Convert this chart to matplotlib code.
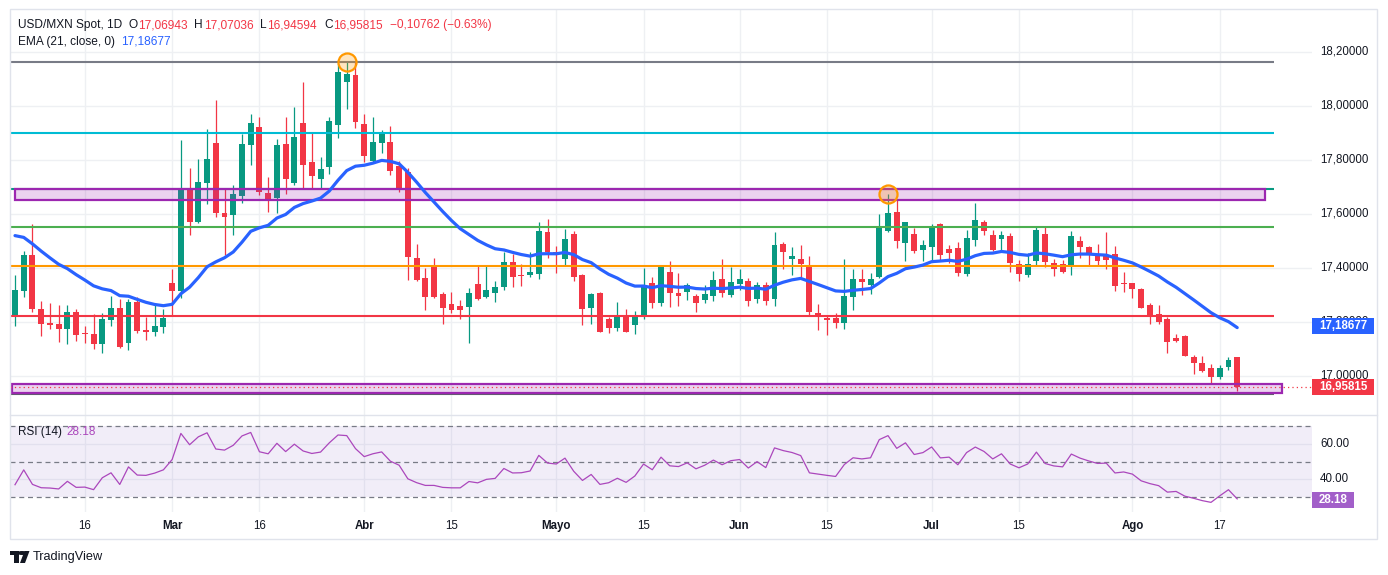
import numpy as np
import pandas as pd
import matplotlib
matplotlib.use("Agg")
import matplotlib.pyplot as plt
import matplotlib.transforms as mtransforms
from matplotlib.patches import Rectangle, Polygon, Circle
from matplotlib.lines import Line2D

plt.rcParams['font.family'] = ['Liberation Sans', 'DejaVu Sans']

# --- data (USD/MXN daily) ---
dates = pd.bdate_range("2026-02-04", "2026-08-19")

opens = [17.225, 17.316, 17.448, 17.248, 17.196, 17.193, 17.175, 17.237, 17.158, 17.155,
         17.120, 17.209, 17.252, 17.122, 17.274, 17.169, 17.164, 17.183, 17.344, 17.316,
         17.697, 17.571, 17.716, 17.863, 17.604, 17.597, 17.668, 17.856, 17.922, 17.679,
         17.660, 17.859, 17.716, 17.937, 17.793, 17.731, 17.775, 17.928, 18.090, 18.115,
         17.933, 17.798, 17.864, 17.866, 17.778, 17.754, 17.437, 17.363, 17.411, 17.304,
         17.267, 17.259, 17.257, 17.341, 17.294, 17.308, 17.331, 17.422, 17.374, 17.374,
         17.379, 17.533, 17.459, 17.434, 17.526, 17.374, 17.253, 17.307, 17.211, 17.179,
         17.223, 17.190, 17.220, 17.343, 17.271, 17.385, 17.307, 17.310, 17.297, 17.281,
         17.297, 17.359, 17.301, 17.342, 17.352, 17.286, 17.336, 17.284, 17.488, 17.435,
         17.433, 17.407, 17.233, 17.213, 17.216, 17.197, 17.294, 17.359, 17.337, 17.368,
         17.538, 17.607, 17.494, 17.525, 17.467, 17.478, 17.563, 17.470, 17.474, 17.379,
         17.504, 17.570, 17.522, 17.507, 17.519, 17.415, 17.375, 17.427, 17.526, 17.419,
         17.415, 17.405, 17.500, 17.478, 17.452, 17.447, 17.452, 17.344, 17.344, 17.322,
         17.262, 17.229, 17.210, 17.140, 17.148, 17.069, 17.047, 17.028, 16.997, 17.034,
         17.06943]
highs = [17.374, 17.463, 17.563, 17.278, 17.270, 17.263, 17.263, 17.248, 17.185, 17.230,
         17.233, 17.296, 17.285, 17.286, 17.293, 17.220, 17.270, 17.248, 17.396, 17.874,
         17.771, 17.805, 17.915, 18.022, 17.696, 17.707, 17.896, 17.970, 17.960, 17.738,
         17.878, 17.959, 17.998, 18.089, 17.905, 17.811, 17.960, 18.158, 18.163, 18.164,
         17.970, 17.960, 17.911, 17.926, 17.797, 17.769, 17.489, 17.399, 17.437, 17.310,
         17.310, 17.281, 17.325, 17.409, 17.409, 17.353, 17.460, 17.452, 17.415, 17.460,
         17.569, 17.581, 17.481, 17.546, 17.537, 17.378, 17.309, 17.312, 17.220, 17.274,
         17.247, 17.241, 17.400, 17.367, 17.410, 17.427, 17.381, 17.346, 17.303, 17.336,
         17.390, 17.433, 17.403, 17.395, 17.362, 17.348, 17.349, 17.534, 17.497, 17.479,
         17.485, 17.444, 17.266, 17.223, 17.232, 17.433, 17.395, 17.395, 17.380, 17.600,
         17.674, 17.655, 17.569, 17.547, 17.504, 17.563, 17.567, 17.485, 17.495, 17.541,
         17.641, 17.578, 17.541, 17.537, 17.531, 17.430, 17.454, 17.553, 17.551, 17.433,
         17.430, 17.537, 17.519, 17.481, 17.489, 17.535, 17.481, 17.385, 17.344, 17.325,
         17.269, 17.263, 17.217, 17.156, 17.152, 17.078, 17.074, 17.044, 17.041, 17.069,
         17.07036]
lows = [17.185, 17.294, 17.238, 17.149, 17.175, 17.127, 17.120, 17.131, 17.122, 17.100,
        17.084, 17.186, 17.103, 17.096, 17.158, 17.133, 17.149, 17.160, 17.222, 17.289,
        17.522, 17.568, 17.637, 17.590, 17.448, 17.522, 17.641, 17.781, 17.670, 17.608,
        17.604, 17.674, 17.707, 17.692, 17.696, 17.696, 17.748, 17.883, 17.990, 17.919,
        17.794, 17.788, 17.827, 17.744, 17.683, 17.356, 17.353, 17.244, 17.288, 17.193,
        17.234, 17.211, 17.123, 17.281, 17.290, 17.275, 17.319, 17.331, 17.334, 17.366,
        17.358, 17.436, 17.380, 17.409, 17.353, 17.189, 17.193, 17.162, 17.158, 17.168,
        17.162, 17.157, 17.210, 17.253, 17.260, 17.257, 17.260, 17.281, 17.238, 17.271,
        17.279, 17.293, 17.294, 17.319, 17.260, 17.269, 17.263, 17.259, 17.395, 17.374,
        17.368, 17.226, 17.170, 17.152, 17.179, 17.174, 17.244, 17.300, 17.304, 17.364,
        17.534, 17.475, 17.427, 17.457, 17.427, 17.430, 17.430, 17.417, 17.372, 17.372,
        17.483, 17.522, 17.463, 17.463, 17.387, 17.353, 17.368, 17.411, 17.405, 17.372,
        17.383, 17.375, 17.436, 17.407, 17.412, 17.396, 17.315, 17.310, 17.288, 17.251,
        17.193, 17.193, 17.086, 17.127, 17.075, 17.009, 17.014, 16.970, 16.990, 17.022,
        16.94594]
closes = [17.319, 17.448, 17.249, 17.194, 17.189, 17.175, 17.237, 17.153, 17.155, 17.120,
          17.211, 17.252, 17.109, 17.274, 17.168, 17.164, 17.185, 17.215, 17.316, 17.697,
          17.571, 17.720, 17.805, 17.605, 17.590, 17.674, 17.859, 17.937, 17.680, 17.649,
          17.855, 17.731, 17.885, 17.781, 17.742, 17.767, 17.946, 18.126, 18.118, 17.940,
          17.815, 17.867, 17.900, 17.760, 17.695, 17.440, 17.356, 17.294, 17.294, 17.253,
          17.244, 17.244, 17.307, 17.286, 17.319, 17.328, 17.422, 17.368, 17.370, 17.385,
          17.537, 17.459, 17.449, 17.507, 17.368, 17.249, 17.305, 17.164, 17.179, 17.219,
          17.164, 17.219, 17.335, 17.269, 17.407, 17.306, 17.297, 17.336, 17.269, 17.304,
          17.356, 17.309, 17.348, 17.359, 17.279, 17.336, 17.279, 17.485, 17.460, 17.443,
          17.416, 17.238, 17.223, 17.209, 17.197, 17.296, 17.359, 17.349, 17.359, 17.551,
          17.604, 17.501, 17.569, 17.464, 17.485, 17.550, 17.449, 17.457, 17.383, 17.511,
          17.578, 17.538, 17.467, 17.522, 17.420, 17.379, 17.415, 17.541, 17.423, 17.396,
          17.386, 17.519, 17.479, 17.451, 17.427, 17.430, 17.334, 17.342, 17.321, 17.253,
          17.223, 17.201, 17.127, 17.131, 17.075, 17.049, 17.019, 16.997, 17.028, 17.058,
          16.95815]

# indicator state carried in from before the first visible bar
ema_seed = 17.54
rsi_seed_gain, rsi_seed_loss = 0.024, 0.041

# drawn levels and zones
level_prices = [18.164, 17.901, 17.693, 17.551, 17.407, 17.224, 16.932]
level_colors = ['#787b86', '#00bcd4', '#089981', '#4caf50', '#ff9800', '#f23645', '#5d606b']
zones = [(17.652, 17.693), (16.937, 16.970)]
marked_highs = [38, 100]

tick_dates = ["2026-02-16", "2026-03-01", "2026-03-16", "2026-04-01", "2026-04-15",
              "2026-05-01", "2026-05-15", "2026-06-01", "2026-06-15", "2026-07-01",
              "2026-07-15", "2026-08-01", "2026-08-17"]
tick_texts = ["16", "Mar", "16", "Abr", "15", "Mayo", "15", "Jun", "15", "Jul", "15", "Ago", "17"]
price_ticks = [17.0, 17.2, 17.4, 17.6, 17.8, 18.0, 18.2]

# --- indicators ---
c = pd.Series(closes)
ema = [ema_seed]
for v in closes:
    ema.append(ema[-1] + (v - ema[-1]) * 2 / 22)
ema = np.array(ema[1:])

ag, al = rsi_seed_gain, rsi_seed_loss
rsi = [100 - 100 / (1 + ag / al)]
for d in c.diff().values[1:]:
    ag = (ag * 13 + max(d, 0)) / 14
    al = (al * 13 + max(-d, 0)) / 14
    rsi.append(100 - 100 / (1 + ag / al))
rsi = np.array(rsi)

# --- layout (pixels) ---
W, H = 1388, 575
def fx(px):
    return px / W
def fy(py):
    return 1 - py / H

fig = plt.figure(figsize=(W / 100, H / 100), dpi=100)
ax = fig.add_axes([fx(10), fy(415), fx(1302), (415 - 10) / H])
axr = fig.add_axes([fx(10), fy(512), fx(1302), (512 - 415) / H])

step = 8.73
x_lo, x_hi = (10 - 15) / step, (1312 - 15) / step
ax.set_xlim(x_lo, x_hi)
axr.set_xlim(x_lo, x_hi)
ax.set_ylim(18.2 - (415 - 52) / 270, 18.2 + (52 - 10) / 270)
axr.set_ylim(30 - 15 / 1.775, 70 + 11 / 1.775)
for a in (ax, axr):
    a.set_xticks([])
    a.set_yticks([])
    for s in a.spines.values():
        s.set_visible(False)

grid_c = '#eef0f3'
tick_idx = [int(dates.searchsorted(pd.Timestamp(d))) for d in tick_dates]
for t in tick_idx:
    ax.axvline(t, color=grid_c, lw=1, zorder=0)
    axr.axvline(t, color=grid_c, lw=1, zorder=0)
for p in price_ticks:
    ax.axhline(p, color=grid_c, lw=1, zorder=0)
for r in (40, 60):
    axr.axhline(r, color=grid_c, lw=1, zorder=0)

# candles
o, h, l, cl = map(np.array, (opens, highs, lows, closes))
x = np.arange(len(o))
up = cl >= o
col = np.where(up, '#089981', '#f23645')
ax.vlines(x, l, h, colors=col, lw=0.9, zorder=2)
ax.bar(x, np.maximum(np.abs(cl - o), 0.004), bottom=np.minimum(o, cl), width=0.68,
       color=col, zorder=2.1)

# levels and zones
line_end = (1274 - 15) / step
ax.hlines(level_prices, x_lo, line_end, colors=level_colors, lw=1.5, zorder=3)
zone_x = [(0, (1265 - 15) / step), ((12 - 15) / step, (1282 - 15) / step)]
for (z0, z1), (a0, a1) in zip(zones, zone_x):
    ax.add_patch(Rectangle((a0, z0), a1 - a0, z1 - z0, fc=(0.612, 0.153, 0.69, 0.2),
                           ec='#9c27b0', lw=1.6, zorder=3.2))

ax.plot(x, ema, color='#2962ff', lw=2.3, zorder=4, solid_capstyle='round')
ax.plot(x[marked_highs], h[marked_highs], 'o', ms=13, mfc=(1, 0.6, 0, 0.25),
        mec='#ff9800', mew=1.6, zorder=5)
ax.axhline(cl[-1], color='#f23645', lw=0.9, ls=(0, (1, 2.5)), zorder=3.5)

# RSI pane
axr.axhspan(30, 70, color=(0.494, 0.341, 0.761, 0.1), lw=0, zorder=0.5)
for r in (30, 50, 70):
    axr.axhline(r, color='#787b86', lw=0.9, ls=(0, (4, 3)), zorder=1)
axr.plot(x, rsi, color='#ab47bc', lw=0.9, zorder=3)

# frame
fig.patches.append(Rectangle((fx(10), fy(539)), fx(1367), (539 - 9) / H, transform=fig.transFigure,
                             fill=False, ec='#e0e3eb', lw=1))
fig.lines.append(Line2D([fx(10), fx(1377)], [fy(415), fy(415)], transform=fig.transFigure,
                        color='#e0e3eb', lw=1))

# price axis labels
tp = mtransforms.blended_transform_factory(fig.transFigure, ax.transData)
for p in price_ticks:
    fig.text(fx(1320), p, f"{p:.5f}".replace('.', ','), transform=tp, fontsize=8.3,
             color='#131722', va='center', ha='left', zorder=3)
def value_box(trans, val, half, text, color):
    fig.patches.append(Rectangle((fx(1312), val - half), fx(62), 2 * half, transform=trans,
                                 fc=color, ec='none', zorder=5))
    fig.text(fx(1343), val, text, transform=trans, fontsize=8.3, color='white',
             va='center', ha='center', fontweight='bold', zorder=6)
value_box(tp, 17.18677, 8 / 270, "17,18677", '#2962ff')
value_box(tp, cl[-1], 8 / 270, "16,95815", '#f23645')

tr = mtransforms.blended_transform_factory(fig.transFigure, axr.transData)
for r in (40, 60):
    fig.text(fx(1320), r, f"{r:.2f}", transform=tr, fontsize=8.3, color='#131722',
             va='center', ha='left')
fig.patches.append(Rectangle((fx(1312), 28.3 - 4.5), fx(42), 9, transform=tr,
                             fc='#a25fc9', ec='none', zorder=5))
fig.text(fx(1333), 28.3, "28.18", transform=tr, fontsize=8.3, color='white',
         va='center', ha='center', fontweight='bold', zorder=6)

# date labels
td = mtransforms.blended_transform_factory(axr.transData, fig.transFigure)
for t, s in zip(tick_idx, tick_texts):
    fig.text(t, fy(526), s, transform=td, fontsize=8.3, color='#131722', ha='center',
             va='center', fontweight='bold' if not s.isdigit() else 'normal')

# header legends, each piece placed right after the previous one
dark, red, blue = '#131722', '#f23645', '#2962ff'
renderer = fig.canvas.get_renderer()
def chain(py, pieces, size):
    px = 18
    for s, cc, gap in pieces:
        t = fig.text(fx(px), fy(py), s, fontsize=size, color=cc, va='center', ha='left')
        px = t.get_window_extent(renderer).x1 + gap

chain(25, [("USD/MXN Spot, 1D", dark, 6), ("O", dark, 0.5), ("17,06943", red, 7),
           ("H", dark, 0.5), ("17,07036", red, 7), ("L", dark, 0.5), ("16,94594", red, 7),
           ("C", dark, 0.5), ("16,95815", red, 7), ("\u22120,10762 (\u22120.63%)", red, 0)], 8.6)
chain(42, [("EMA (21, close, 0)", dark, 6), ("17,18677", blue, 0)], 8.6)
fig.text(fx(18), fy(432), "RSI (14)", fontsize=8.5, color=dark, va='center')
fig.text(fx(66), fy(432), "28.18", fontsize=8.5, color='#ab47bc', va='center')

# TradingView mark
ft = fig.transFigure
fig.patches.append(Rectangle((fx(10), fy(555)), fx(9), 4 / H, transform=ft, fc=dark, ec='none'))
fig.patches.append(Rectangle((fx(14), fy(563)), fx(5), 12 / H, transform=ft, fc=dark, ec='none'))
fig.patches.append(Circle((fx(22), fy(553)), 2 / H, transform=ft, fc=dark, ec='none'))
fig.patches.append(Polygon([(fx(24.5), fy(551)), (fx(29.5), fy(551)), (fx(25), fy(563)),
                            (fx(20), fy(563))], transform=ft, fc=dark, ec='none'))
fig.text(fx(33), fy(557), "TradingView", fontsize=9.2, color=dark, va='center')

fig.savefig("out.png", dpi=100, facecolor='white')
